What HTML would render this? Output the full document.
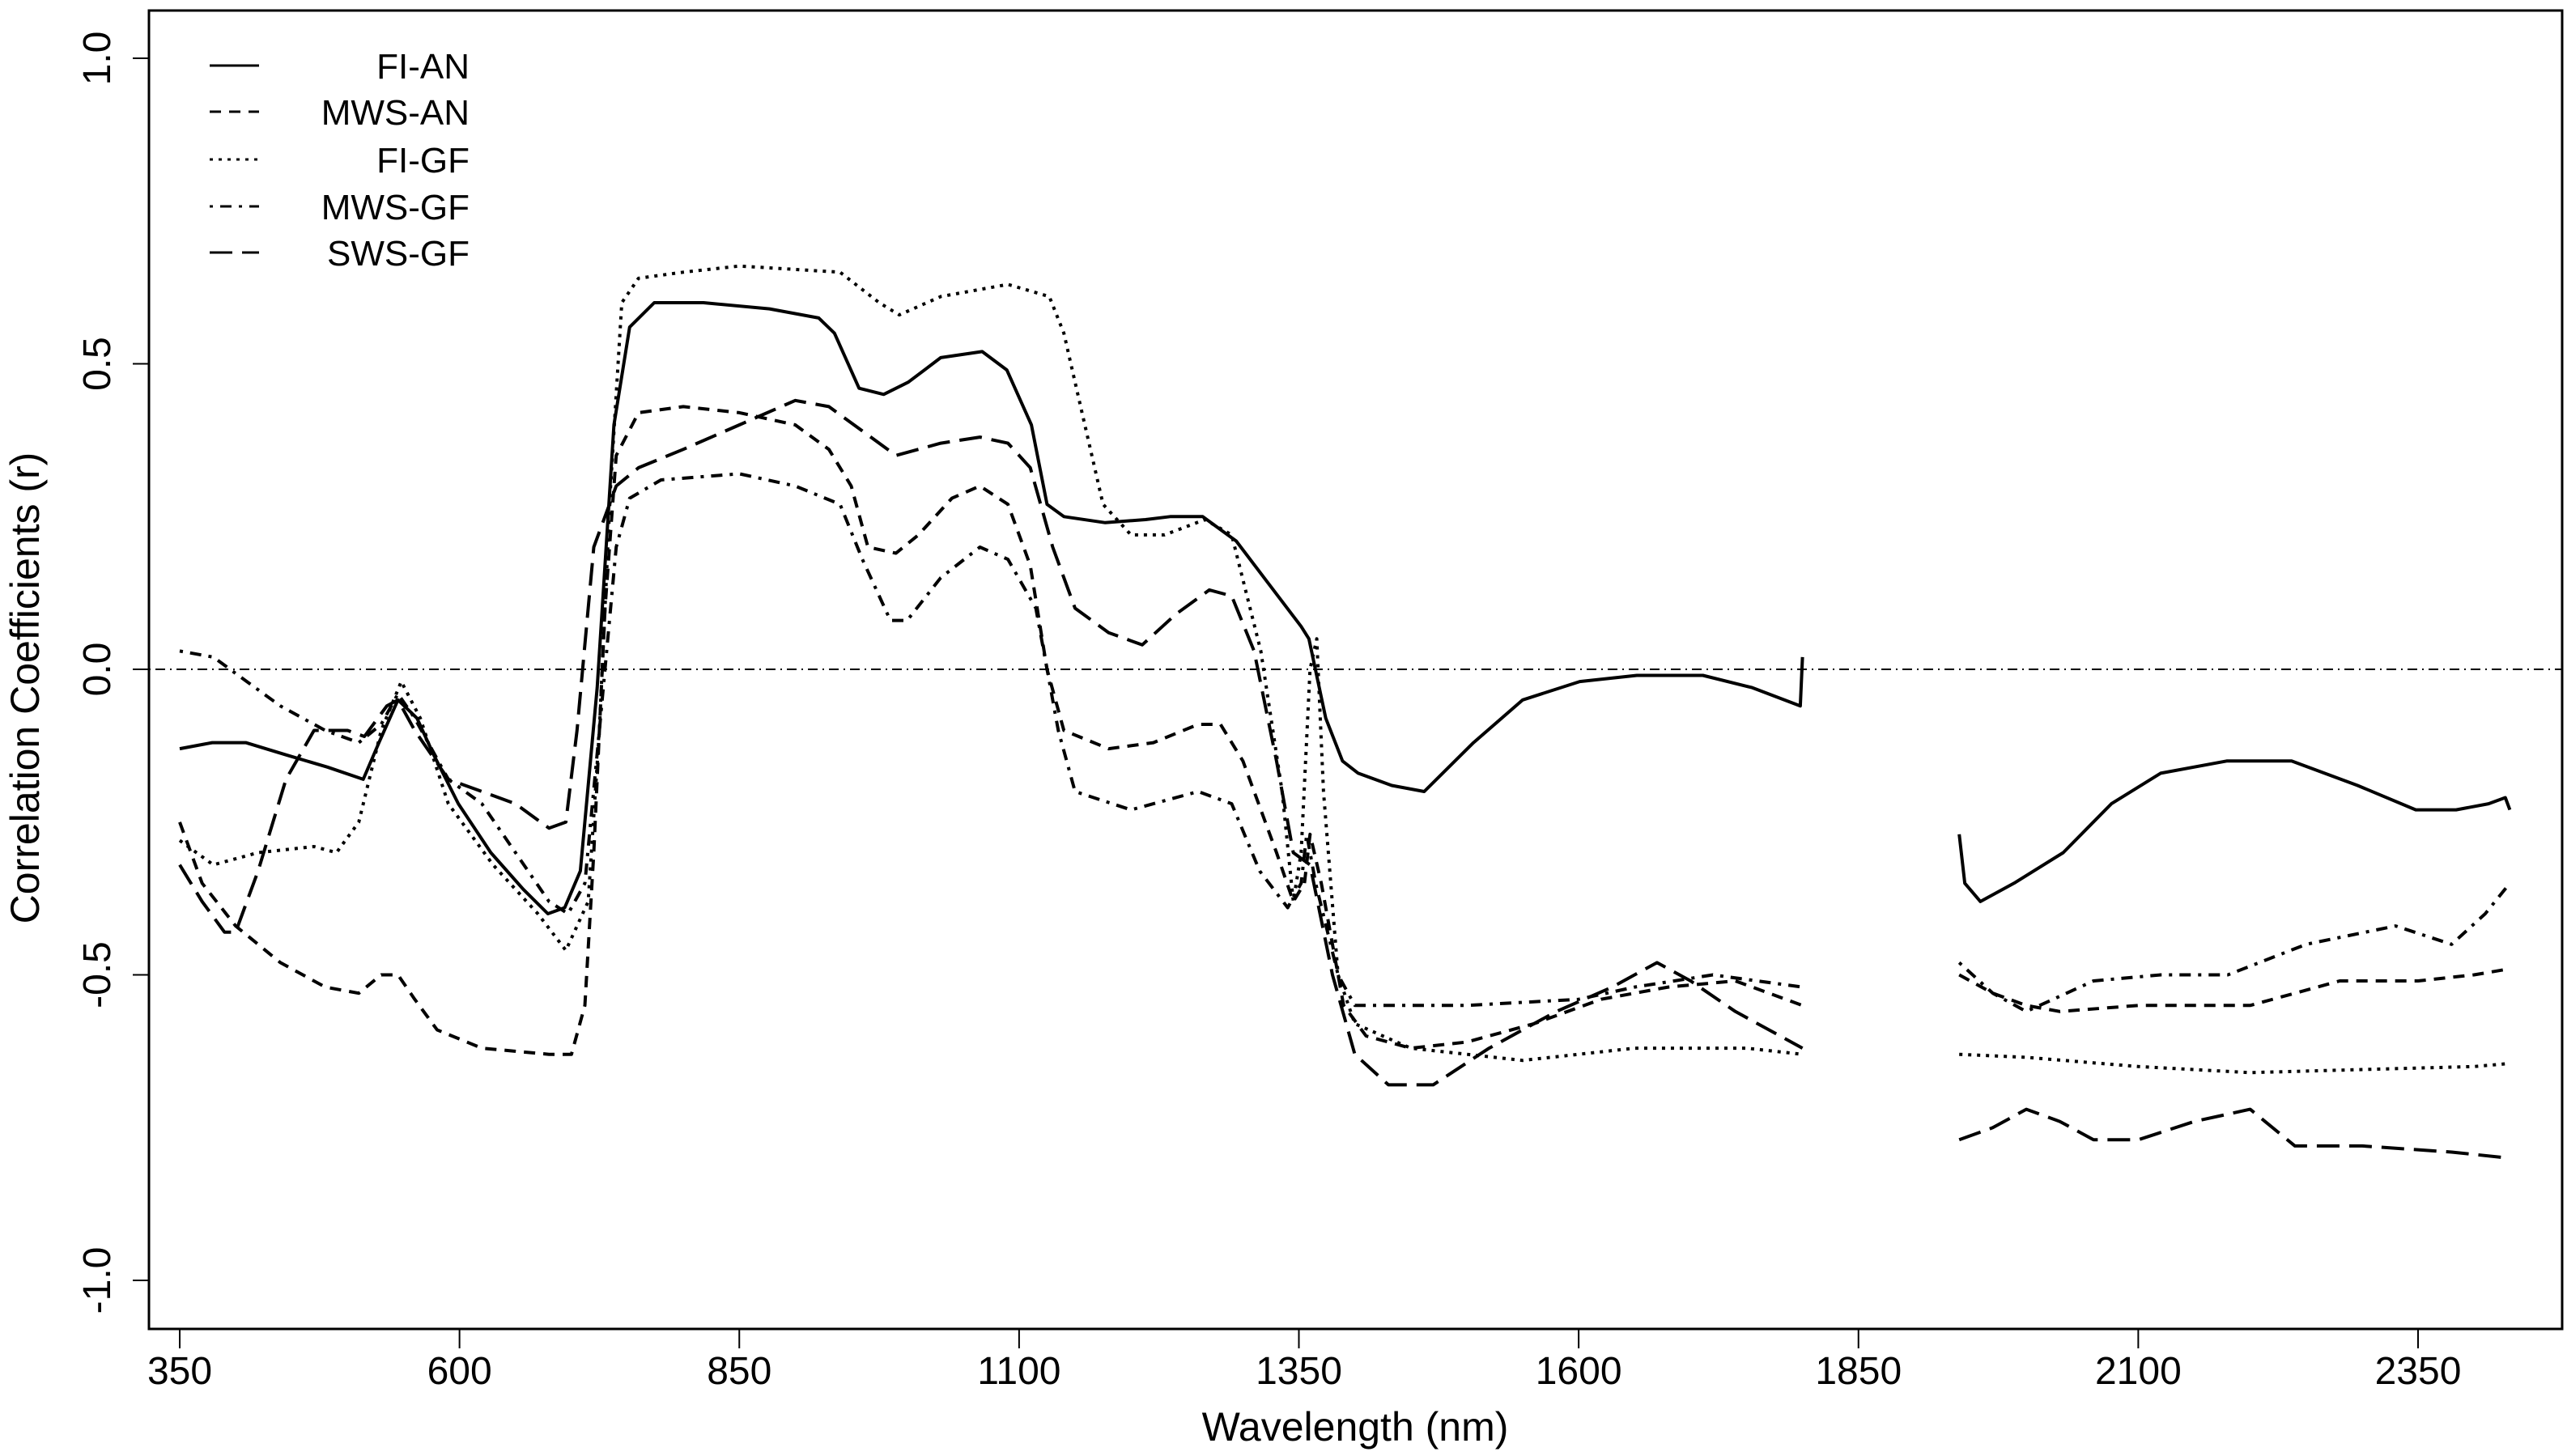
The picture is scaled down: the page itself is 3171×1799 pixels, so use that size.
<!DOCTYPE html>
<html><head><meta charset="utf-8">
<style>
html,body{margin:0;padding:0;background:#fff;}
svg{display:block;font-family:"Liberation Sans",Arial,sans-serif;}
</style></head>
<body>
<svg id="chart" width="3171" height="1799" viewBox="0 0 3171 1799">
<rect x="0" y="0" width="3171" height="1799" fill="#fff"/>
<g id="plot"></g>
</svg>
<script>
const xTicks=[350,600,850,1100,1350,1600,1850,2100,2350];
const yTicks=[1.0,0.5,0.0,-0.5,-1.0];
const yTickLabels=["1.0","0.5","0.0","-0.5","-1.0"];
const fiAnWl1=[350,379,409,445,482,514,528,545,562,577,599,628,657,679,694,708,723,738,752,774,818,877,921,935,957,979,1001,1030,1067,1089,1111,1125,1140,1177,1213,1235,1264,1294,1323,1352,1359,1374,1389,1403,1433,1462,1506,1550,1601,1652,1711,1755,1798,1800];
const fiAnR1=[-0.13,-0.12,-0.12,-0.14,-0.16,-0.18,-0.12,-0.05,-0.08,-0.14,-0.22,-0.30,-0.36,-0.40,-0.39,-0.33,-0.03,0.40,0.56,0.60,0.60,0.59,0.575,0.55,0.46,0.45,0.47,0.51,0.52,0.49,0.40,0.27,0.25,0.24,0.245,0.25,0.25,0.21,0.14,0.07,0.05,-0.08,-0.15,-0.17,-0.19,-0.20,-0.12,-0.05,-0.02,-0.01,-0.01,-0.03,-0.06,0.02];
const fiAnWl2=[1940,1945,1959,1989,2033,2076,2120,2179,2237,2296,2348,2384,2413,2428,2432];
const fiAnR2=[-0.27,-0.35,-0.38,-0.35,-0.30,-0.22,-0.17,-0.15,-0.15,-0.19,-0.23,-0.23,-0.22,-0.21,-0.23];
const mwsAnWl1=[350,370,400,440,480,510,530,545,560,580,620,680,700,712,720,730,740,760,800,850,900,930,950,965,990,1010,1040,1065,1090,1110,1125,1140,1180,1220,1260,1280,1300,1330,1345,1355,1360,1370,1390,1410,1450,1500,1560,1620,1680,1740,1800];
const mwsAnR1=[-0.25,-0.35,-0.42,-0.48,-0.52,-0.53,-0.50,-0.50,-0.54,-0.59,-0.62,-0.63,-0.63,-0.55,-0.30,0.10,0.35,0.42,0.43,0.42,0.40,0.36,0.30,0.20,0.19,0.22,0.28,0.30,0.27,0.17,0.0,-0.10,-0.13,-0.12,-0.09,-0.09,-0.15,-0.30,-0.38,-0.35,-0.27,-0.35,-0.55,-0.60,-0.62,-0.61,-0.58,-0.54,-0.52,-0.51,-0.55];
const mwsAnWl2=[1940,1970,2000,2030,2100,2200,2240,2280,2350,2400,2432];
const mwsAnR2=[-0.50,-0.53,-0.55,-0.56,-0.55,-0.55,-0.53,-0.51,-0.51,-0.50,-0.49];
const fiGfWl1=[350,380,420,470,490,510,530,548,565,590,630,670,695,715,725,735,745,760,800,850,940,975,993,1030,1090,1127,1140,1155,1175,1200,1230,1266,1290,1316,1335,1345,1352,1360,1366,1372,1385,1400,1450,1550,1650,1750,1800];
const fiGfR1=[-0.28,-0.32,-0.30,-0.29,-0.30,-0.25,-0.10,-0.02,-0.08,-0.22,-0.32,-0.40,-0.46,-0.38,-0.10,0.30,0.60,0.64,0.65,0.66,0.65,0.60,0.58,0.61,0.63,0.61,0.55,0.43,0.27,0.22,0.22,0.245,0.22,0.03,-0.20,-0.38,-0.30,0.0,0.05,-0.20,-0.50,-0.58,-0.62,-0.64,-0.62,-0.62,-0.63];
const fiGfWl2=[1940,2000,2100,2200,2300,2400,2432];
const fiGfR2=[-0.63,-0.635,-0.65,-0.66,-0.655,-0.65,-0.645];
const mwsGfWl1=[350,380,410,440,480,510,530,545,560,590,620,650,680,697,712,725,740,752,780,850,900,940,960,985,1000,1030,1065,1090,1115,1135,1150,1200,1260,1290,1315,1340,1352,1357,1365,1385,1400,1500,1600,1650,1720,1800];
const mwsGfR1=[0.03,0.02,-0.02,-0.06,-0.10,-0.12,-0.09,-0.04,-0.08,-0.18,-0.22,-0.30,-0.38,-0.40,-0.35,-0.10,0.20,0.28,0.31,0.32,0.30,0.27,0.18,0.08,0.08,0.15,0.20,0.18,0.10,-0.10,-0.20,-0.23,-0.20,-0.22,-0.33,-0.39,-0.35,-0.27,-0.35,-0.50,-0.55,-0.55,-0.54,-0.52,-0.50,-0.52];
const mwsGfWl2=[1940,1970,2000,2060,2120,2180,2250,2330,2380,2410,2432];
const mwsGfR2=[-0.48,-0.53,-0.56,-0.51,-0.50,-0.50,-0.45,-0.42,-0.45,-0.40,-0.35];
const swsGfWl1=[350,370,390,400,420,445,470,500,515,535,545,560,590,620,650,680,695,705,720,740,760,800,850,900,930,960,990,1030,1065,1090,1110,1130,1150,1180,1210,1240,1270,1290,1310,1330,1345,1360,1380,1400,1430,1470,1520,1580,1630,1670,1700,1740,1800];
const swsGfR1=[-0.32,-0.38,-0.43,-0.43,-0.33,-0.18,-0.10,-0.10,-0.11,-0.06,-0.05,-0.10,-0.18,-0.20,-0.22,-0.26,-0.25,-0.10,0.20,0.30,0.33,0.36,0.40,0.44,0.43,0.39,0.35,0.37,0.38,0.37,0.33,0.20,0.10,0.06,0.04,0.09,0.13,0.12,0.03,-0.15,-0.30,-0.32,-0.50,-0.63,-0.68,-0.68,-0.62,-0.56,-0.52,-0.48,-0.51,-0.56,-0.62];
const swsGfWl2=[1940,1970,2000,2030,2060,2100,2150,2200,2240,2300,2380,2432];
const swsGfR2=[-0.77,-0.75,-0.72,-0.74,-0.77,-0.77,-0.74,-0.72,-0.78,-0.78,-0.79,-0.80];
const legendLabels=["FI-AN","MWS-AN","FI-GF","MWS-GF","SWS-GF"];

const NS="http://www.w3.org/2000/svg";
const g=document.getElementById('plot');
const L=184,R=3165,T=13,B=1642;
function xs(w){return 222+(w-350)*1.3825;}
function ys(r){return 827-r*755;}
function mk(tag,attrs,parent){const e=document.createElementNS(NS,tag);for(const k in attrs)e.setAttribute(k,attrs[k]);(parent||g).appendChild(e);return e;}

// zero line
let zl=mk('line',{x1:L,x2:R,y1:ys(0),y2:ys(0),stroke:'#000','stroke-width':2,'stroke-dasharray':'2 6 12 6'});



const styles={solid:'',dash:'14 10',dot:'4 7',dotdash:'4 9 14 9',longdash:'28 12'};
const series=[
 ['fi-an-line',[[fiAnWl1,fiAnR1],[fiAnWl2,fiAnR2]],styles.solid],
 ['mws-an-line',[[mwsAnWl1,mwsAnR1],[mwsAnWl2,mwsAnR2]],styles.dash],
 ['fi-gf-line',[[fiGfWl1,fiGfR1],[fiGfWl2,fiGfR2]],styles.dot],
 ['mws-gf-line',[[mwsGfWl1,mwsGfR1],[mwsGfWl2,mwsGfR2]],styles.dotdash],
 ['sws-gf-line',[[swsGfWl1,swsGfR1],[swsGfWl2,swsGfR2]],styles.longdash]
];
series.forEach(s=>{
  s[1].forEach((seg,i)=>{
    const d=seg[0].map((w,j)=>(j?'L':'M')+xs(w).toFixed(1)+','+ys(seg[1][j]).toFixed(1)).join(' ');
    const p=mk('path',{d:d,fill:'none',stroke:'#000','stroke-width':4,'stroke-linejoin':'round'});
    if(s[2])p.setAttribute('stroke-dasharray',s[2]);
    
    
  });
});

// frame
let fr=mk('rect',{x:L,y:T,width:R-L,height:B-T,fill:'none',stroke:'#000','stroke-width':3});



// x ticks
xTicks.forEach(t=>{
  const x=xs(t);
  const tk=mk('line',{x1:x,x2:x,y1:B,y2:B+24,stroke:'#000','stroke-width':2});
  
  
  const tx=mk('text',{x:x,y:B+68,'text-anchor':'middle','font-size':48,fill:'#000'});
  tx.textContent=t;
  
  
});
// y ticks
yTicks.forEach((t,i)=>{
  const y=ys(t);
  const tk=mk('line',{x1:L-20,x2:L,y1:y,y2:y,stroke:'#000','stroke-width':2});
  
  
  const tx=mk('text',{x:0,y:0,'text-anchor':'middle','font-size':48,fill:'#000',transform:'translate(136,'+y+') rotate(-90)'});
  tx.textContent=yTickLabels[i];
  
  
});
let xt=mk('text',{x:1674,y:1780,'text-anchor':'middle','font-size':50,fill:'#000'});
xt.textContent='Wavelength (nm)';


let yt=mk('text',{x:0,y:0,'text-anchor':'middle','font-size':50,fill:'#000',transform:'translate(48,850) rotate(-90)'});
yt.textContent='Correlation Coefficients (r)';



// legend
const legStyles=[styles.solid,styles.dash,styles.dot,styles.dotdash,styles.longdash];
const legY=[81,138,197,255,312];
legendLabels.forEach((lab,i)=>{
  const ln=mk('line',{x1:259,x2:320,y1:legY[i],y2:legY[i],stroke:'#000','stroke-width':3});
  if(legStyles[i])ln.setAttribute('stroke-dasharray',legStyles[i]);
  
  
  const tx=mk('text',{x:580,y:legY[i]+16,'text-anchor':'end','font-size':44,fill:'#000'});
  tx.textContent=lab;
  
  
});
</script>
</body></html>
